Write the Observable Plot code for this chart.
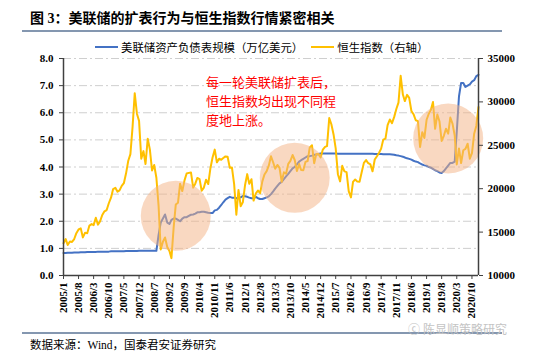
<!DOCTYPE html>
<html><head><meta charset="utf-8">
<script src="https://cdn.jsdelivr.net/npm/d3@7"></script>
<script src="https://cdn.jsdelivr.net/npm/@observablehq/plot@0.6"></script>
<style>
body{margin:0;background:#fff;width:550px;height:360px;overflow:hidden;position:relative;font-family:"Liberation Serif","Noto Sans CJK SC",serif;color:#000;}
#title{position:absolute;left:30px;top:7px;font-size:14px;font-weight:bold;white-space:nowrap;}
#rule1{position:absolute;left:22px;width:480px;top:30px;border-top:2px solid #8497b0;}
#legend{position:absolute;left:95px;top:39px;display:flex;align-items:center;font-size:11.4px;white-space:nowrap;}
#legend .sw{width:23px;height:0;border-top:2.5px solid;margin-right:3px;}
#legend .it{display:flex;align-items:center;margin-right:8px;}
#chart{position:absolute;left:0;top:54px;}
#rule2{position:absolute;left:22px;width:480px;top:332px;border-top:2px solid #8497b0;}
#source{position:absolute;left:30px;top:336px;font-size:11.5px;white-space:nowrap;}
#wm{position:absolute;left:408px;top:320px;font-size:12px;color:#c4c4c4;white-space:nowrap;}
</style></head>
<body>
<div id="title">图 3：美联储的扩表行为与恒生指数行情紧密相关</div>
<div id="rule1"></div>
<div id="legend"></div>
<div id="chart"></div>
<div id="rule2"></div>
<div id="wm">ⓒ 陈显顺策略研究</div>
<div id="source">数据来源：Wind，国泰君安证券研究</div>
<script>
// ---------- data ----------
const startMonth = "2005/1";
const endMonth = "2021/1";
const seriesNames = ["美联储资产负债表规模（万亿美元）", "恒生指数（右轴）"];
const seriesColors = ["#4472c4", "#ffc000"];

// Fed balance sheet, trillion USD, monthly 2005/1 .. 2021/1
const fedBalance = [
  0.83,0.83,0.84,0.84,0.84,0.85,0.85,0.85,0.86,0.86,0.86,0.87,
  0.87,0.87,0.87,0.87,0.88,0.88,0.88,0.88,0.88,0.88,0.89,0.89,
  0.89,0.89,0.89,0.89,0.89,0.90,0.90,0.90,0.90,0.90,0.90,0.91,
  0.91,0.91,0.91,0.91,0.91,0.91,0.91,0.91,1.50,1.95,2.10,2.25,
  1.95,1.90,2.05,2.10,2.10,2.05,2.00,2.10,2.15,2.15,2.20,2.24,
  2.25,2.28,2.33,2.33,2.35,2.35,2.33,2.31,2.30,2.30,2.40,2.42,
  2.50,2.60,2.70,2.80,2.85,2.90,2.87,2.87,2.85,2.87,2.88,2.93,
  2.92,2.90,2.87,2.85,2.85,2.90,2.85,2.82,2.82,2.85,2.88,2.92,
  3.00,3.10,3.20,3.30,3.40,3.45,3.55,3.65,3.75,3.85,3.95,4.00,
  4.10,4.20,4.25,4.30,4.35,4.40,4.40,4.42,4.45,4.45,4.48,4.50,
  4.50,4.50,4.50,4.50,4.50,4.50,4.50,4.49,4.49,4.49,4.49,4.49,
  4.49,4.49,4.49,4.49,4.49,4.49,4.49,4.49,4.49,4.49,4.49,4.49,
  4.48,4.48,4.48,4.48,4.47,4.47,4.47,4.47,4.46,4.45,4.43,4.42,
  4.40,4.38,4.35,4.32,4.30,4.27,4.23,4.20,4.18,4.13,4.09,4.06,
  4.05,4.00,3.98,3.93,3.88,3.85,3.80,3.78,3.85,3.95,4.05,4.15,
  4.15,4.20,5.30,6.60,7.10,7.10,6.95,7.00,7.05,7.15,7.20,7.35,
  7.40
];
// Hang Seng Index, monthly 2005/1 .. 2021/1
const hangSeng = [
  13721,14195,13516,13908,13868,14201,14880,15300,15428,14386,14937,14876,
  15753,15918,15805,16661,15857,16267,16971,17392,17543,18324,18960,19965,
  20107,19652,19801,20319,20635,21773,23185,23984,27143,31000,28643,27813,
  23456,24332,22849,25755,24533,22102,22731,21262,18016,13000,13888,14387,
  13278,12812,12000,15521,18171,18379,20573,19724,20955,21753,21822,21873,
  20122,20609,21239,21108,19765,20129,21030,20536,22358,23600,24500,23035,
  23447,23338,23528,23720,23684,22398,22440,20535,17000,19864,17989,18434,
  20390,21680,20556,21094,18630,19441,19796,19483,20840,21642,22030,22657,
  23730,23020,22300,22737,22392,20803,21884,21731,22860,23206,23881,23306,
  22035,22837,22151,22134,23082,23191,24757,25000,22933,23998,23987,23605,
  24507,24823,24901,28133,27424,26250,24636,21671,20846,22640,21996,21914,
  19683,19000,20777,21067,20815,20794,21891,22977,23297,22935,22790,22001,
  23361,23741,24112,24615,25661,25765,27324,27970,27554,28246,29177,29919,
  33000,30845,30093,30808,30469,28955,28583,27889,27789,24800,26507,25846,
  27942,28633,29051,30000,26901,28543,27778,25500,26092,26907,26346,28190,
  27500,26130,22800,24644,22961,24427,24595,25177,23459,24107,26341,27231,
  29400
];

const leftTicks = [0,1,2,3,4,5,6,7,8];
const rightTicks = [10000,15000,20000,25000,30000,35000];
const xTickLabels = ["2005/1","2005/8","2006/3","2006/10","2007/5","2007/12","2008/7","2009/2",
  "2009/9","2010/4","2010/11","2011/6","2012/1","2012/8","2013/3","2013/10","2014/5","2014/12",
  "2015/7","2016/2","2016/9","2017/4","2017/11","2018/6","2019/1","2019/8","2020/3","2020/10"];

// annotation anchors (month, left-axis value)
const circleMonths = ["2009/5","2013/12","2019/11"];
const circleValues = [2.2, 3.6, 5.05];
const noteMonth = "2010/7";
const noteValue = 7.45;
const noteText = "每一轮美联储扩表后，\n恒生指数均出现不同程\n度地上涨。";

// ---------- build ----------
const parseMonth = s => { const [y, m] = s.split("/"); return new Date(Date.UTC(+y, +m - 1, 1)); };
const fmtMonth = d => `${d.getUTCFullYear()}/${d.getUTCMonth() + 1}`;
const months = d3.utcMonth.range(parseMonth(startMonth), d3.utcMonth.offset(parseMonth(endMonth), 1));
const yMin = leftTicks[0], yMax = leftTicks[leftTicks.length - 1];
const hMin = rightTicks[0], hMax = rightTicks[rightTicks.length - 1];
const toLeft = h => yMin + (h - hMin) * (yMax - yMin) / (hMax - hMin);
const toRight = v => hMin + (v - yMin) * (hMax - hMin) / (yMax - yMin);

const rows = months.map((date, i) => ({date, fed: fedBalance[i], hsi: hangSeng[i]}));
const circles = circleMonths.map((m, i) => ({date: parseMonth(m), value: circleValues[i]}));
const note = [{date: parseMonth(noteMonth), value: noteValue, text: noteText}];
const xTicks = xTickLabels.map(parseMonth);
const xDomain = [parseMonth(startMonth), parseMonth(endMonth)];

// legend
const legend = document.getElementById("legend");
seriesNames.forEach((name, i) => {
  const it = document.createElement("div"); it.className = "it";
  const sw = document.createElement("div"); sw.className = "sw"; sw.style.borderTopColor = seriesColors[i];
  const tx = document.createElement("span"); tx.textContent = name;
  it.append(sw, tx); legend.append(it);
});

const axisColor = "#404040";
const chart = Plot.plot({
  width: 550,
  height: 274,
  marginTop: 4,
  marginBottom: 53,
  marginLeft: 63,
  marginRight: 72,
  style: {fontFamily: '"Liberation Serif","Noto Sans CJK SC",serif', background: "transparent", overflow: "visible", color: "#000"},
  x: {type: "utc", domain: xDomain},
  y: {domain: [yMin, yMax]},
  marks: [
    Plot.ruleY(leftTicks.slice(1), {stroke: "#cfcfcf", strokeWidth: 1, strokeDasharray: "8,3,2,3"}),
    Plot.line(rows, {x: "date", y: "fed", stroke: seriesColors[0], strokeWidth: 2}),
    Plot.line(rows, {x: "date", y: d => toLeft(d.hsi), stroke: seriesColors[1], strokeWidth: 2}),
    Plot.dot(circles, {x: "date", y: "value", r: 35, fill: "#f4b183", fillOpacity: 0.5, stroke: "none"}),
    Plot.text(note, {x: "date", y: "value", text: "text", textAnchor: "start", lineAnchor: "top",
      fill: "#ff0000", fontSize: 13, lineHeight: 1.47, fontFamily: '"Noto Sans CJK SC",sans-serif'}),
    Plot.ruleX([xDomain[0]], {stroke: axisColor, strokeWidth: 1.5}),
    Plot.ruleX([xDomain[1]], {stroke: axisColor, strokeWidth: 1.5}),
    Plot.ruleY([yMin], {stroke: axisColor, strokeWidth: 1.5}),
    Plot.axisY({ticks: leftTicks, tickFormat: d3.format(".1f"), anchor: "left", tickSize: 4, tickPadding: 6,
      fontSize: 11, fontWeight: "bold", stroke: axisColor, label: null}),
    Plot.axisY({ticks: rightTicks.map(toLeft), tickFormat: v => String(Math.round(toRight(v))), anchor: "right",
      tickSize: 4, tickPadding: 5, fontSize: 11, fontWeight: "bold", stroke: axisColor, label: null}),
    Plot.axisX({ticks: xTicks, tickFormat: fmtMonth, tickRotate: -90, tickSize: 4, tickPadding: 3,
      fontSize: 11, fontWeight: "bold", stroke: axisColor, label: null})
  ]
});
document.getElementById("chart").append(chart);
</script>
</body></html>
